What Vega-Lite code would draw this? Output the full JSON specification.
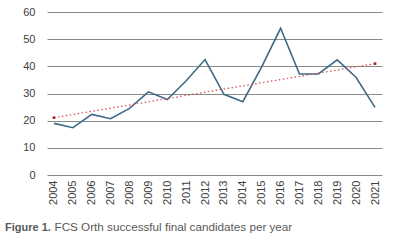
{
  "$schema": "https://vega.github.io/schema/vega-lite/v6.json",
  "autosize": "none",
  "width": 335,
  "height": 163,
  "padding": {"left": 47, "top": 12, "right": 17, "bottom": 71},
  "background": "white",
  "config": {
    "view": {"stroke": null},
    "font": "Liberation Sans"
  },
  "title": {
    "text": "Figure 1.",
    "orient": "bottom",
    "anchor": "start",
    "frame": "group",
    "dx": -42,
    "offset": -2,
    "baseline": "alphabetic",
    "font": "Liberation Sans",
    "fontSize": 11,
    "fontWeight": "bold",
    "color": "#595959"
  },
  "data": {
    "values": [
      {"year": "2004", "value": 19, "trend": 21.1},
      {"year": "2005", "value": 17.4},
      {"year": "2006", "value": 22.3},
      {"year": "2007", "value": 20.7},
      {"year": "2008", "value": 24.5},
      {"year": "2009", "value": 30.6},
      {"year": "2010", "value": 27.8},
      {"year": "2011", "value": 34.7},
      {"year": "2012", "value": 42.5},
      {"year": "2013", "value": 29.7},
      {"year": "2014", "value": 27},
      {"year": "2015", "value": 39.8},
      {"year": "2016", "value": 54},
      {"year": "2017", "value": 37.2},
      {"year": "2018", "value": 37.2},
      {"year": "2019", "value": 42.4},
      {"year": "2020", "value": 35.9},
      {"year": "2021", "value": 24.9, "trend": 41}
    ]
  },
  "encoding": {
    "x": {
      "field": "year",
      "type": "ordinal",
      "scale": {"type": "point", "padding": 0.37},
      "axis": {
        "labelAngle": -90,
        "labelAlign": "right",
        "labelBaseline": "middle",
        "labelPadding": 5,
        "labelFontSize": 11,
        "labelColor": "#404040",
        "domain": false,
        "ticks": false,
        "grid": false,
        "title": "FCS Orth successful final candidates per year",
        "titleX": 7,
        "titleY": 55,
        "titleAlign": "left",
        "titleAnchor": "start",
        "titleBaseline": "alphabetic",
        "titleAngle": 0,
        "titleFontSize": 11.7,
        "titleFontWeight": "normal",
        "titleColor": "#595959"
      }
    },
    "y": {
      "field": "value",
      "type": "quantitative",
      "scale": {"domain": [0, 60], "nice": false},
      "axis": {
        "values": [0, 10, 20, 30, 40, 50, 60],
        "tickCount": 7,
        "labelOverlap": false,
        "title": null,
        "domain": false,
        "ticks": false,
        "labelPadding": 12,
        "labelFontSize": 11,
        "labelColor": "#404040",
        "gridColor": "#8a8a8a",
        "gridWidth": 1
      }
    }
  },
  "layer": [
    {
      "mark": {"type": "line", "color": "#3d6b87", "strokeWidth": 1.6}
    },
    {
      "transform": [{"filter": "isValid(datum.trend)"}],
      "mark": {"type": "line", "color": "#d04a4a", "strokeWidth": 1.2, "strokeDash": [1.5, 2.5]},
      "encoding": {"y": {"field": "trend", "type": "quantitative"}}
    },
    {
      "transform": [{"filter": "isValid(datum.trend)"}],
      "mark": {"type": "square", "color": "#b02525", "size": 7, "filled": true, "opacity": 1},
      "encoding": {"y": {"field": "trend", "type": "quantitative"}}
    }
  ]
}
